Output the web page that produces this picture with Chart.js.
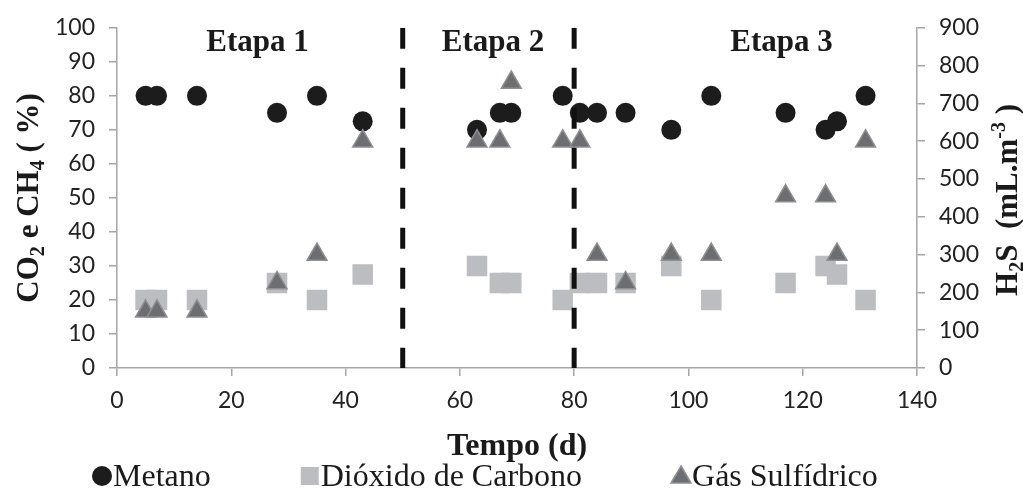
<!DOCTYPE html>
<html>
<head>
<meta charset="utf-8">
<script src="https://cdn.jsdelivr.net/npm/chart.js@4.4.1/dist/chart.umd.min.js"></script>
<style>
  html, body { margin: 0; padding: 0; background: #fff; }
  #wrap { width: 1023px; height: 488px; }
</style>
</head>
<body>
<div id="wrap"><canvas id="gas_chart" width="1023" height="488"></canvas></div>
<script>
// sampling days (same for all three series)
const days = [5, 7, 14, 28, 35, 43, 63, 67, 69, 78, 81, 84, 89, 97, 104, 117, 124, 126, 131];

// CH4 and CO2 in %, H2S in mL.m-3 (right axis)
const metano = [80, 80, 80, 75, 80, 72.5, 70, 75, 75, 80, 75, 75, 75, 70, 80, 75, 70, 72.5, 80];
const dioxido = [20, 20, 20, 25, 20, 27.5, 30, 25, 25, 20, 25, 25, 25, 30, 20, 25, 30, 27.5, 20];
const sulfidrico = [150, 150, 150, 225, 300, 600, 600, 600, 755, 600, 600, 300, 225, 300, 300, 455, 455, 300, 600];

const seriesLabels = ['Metano', 'Dióxido de Carbono', 'Gás Sulfídrico'];

// stage limits and stage names
const stageBounds = [50, 80];
const stageNames = ['Etapa 1', 'Etapa 2', 'Etapa 3'];
const stageCenters = [24.6, 65.8, 116.3];

const xTicks = [0, 20, 40, 60, 80, 100, 120, 140];

const SERIF = "'Liberation Serif', 'Times New Roman', serif";
const SANS = "Lato, 'Open Sans', sans-serif";
const AXIS_GRAY = '#a6a6a6';

function points(values){
    return days.map(function(d, i){ return {x: d, y: values[i]}; });
}

// draws text made of pieces, some of them sub/superscript
function drawRich(ctx, parts, size, x, y){
    let total = 0;
    parts.forEach(function(p){
        const s = p.sub || p.sup ? size * 0.65 : size;
        ctx.font = 'bold ' + s + 'px ' + SERIF;
        total += ctx.measureText(p.t).width;
    });
    let cx = x - total / 2;
    parts.forEach(function(p){
        const s = p.sub || p.sup ? size * 0.65 : size;
        ctx.font = 'bold ' + s + 'px ' + SERIF;
        let dy = 0;
        if(p.sub) dy = size * 0.2;
        if(p.sup) dy = -size * 0.38;
        ctx.fillText(p.t, cx, y + dy);
        cx += ctx.measureText(p.t).width;
    });
}

function legendMarker(ctx, ds, x, y){
    ctx.save();
    ctx.fillStyle = ds.backgroundColor;
    ctx.strokeStyle = ds.borderColor;
    ctx.lineWidth = ds.borderWidth || 0;
    ctx.beginPath();
    if(ds.pointStyle === 'circle'){
        ctx.arc(x, y, 10, 0, Math.PI * 2);
    } else if(ds.pointStyle === 'rect'){
        ctx.rect(x - 9, y - 9, 18, 18);
    } else {
        ctx.moveTo(x, y - 10);
        ctx.lineTo(x + 10, y + 7);
        ctx.lineTo(x - 10, y + 7);
        ctx.closePath();
    }
    ctx.fill();
    if(ds.borderWidth) ctx.stroke();
    ctx.restore();
}

const decorPlugin = {
    id: 'decor',
    afterDraw: function(chart){
        const ctx = chart.ctx;
        const area = chart.chartArea;
        const xs = chart.scales.x;
        ctx.save();
        ctx.fillStyle = '#1a1a1a';

        // stage names
        ctx.font = 'bold 31px ' + SERIF;
        ctx.textAlign = 'center';
        ctx.textBaseline = 'alphabetic';
        stageNames.forEach(function(name, i){
            ctx.fillText(name, xs.getPixelForValue(stageCenters[i]), area.top + 23);
        });

        // axis titles with sub / superscripts
        ctx.textAlign = 'left';
        const midY = (area.top + area.bottom) / 2;
        ctx.save();
        ctx.translate(area.left - 79, midY);
        ctx.rotate(-Math.PI / 2);
        drawRich(ctx, [{t: 'CO'}, {t: '2', sub: true}, {t: ' e CH'}, {t: '4', sub: true}, {t: ' ( %)'}], 31, 0, 0);
        ctx.restore();

        ctx.save();
        ctx.translate(area.right + 100, midY + 2);
        ctx.rotate(-Math.PI / 2);
        drawRich(ctx, [{t: 'H'}, {t: '2', sub: true}, {t: 'S  (mL.m'}, {t: '-3', sup: true}, {t: ' )'}], 31, 0, 0);
        ctx.restore();

        // legend
        ctx.textBaseline = 'alphabetic';
        let lx = 92;
        const ly = 476;
        chart.data.datasets.slice(0, 3).forEach(function(ds){
            legendMarker(ctx, ds, lx + 10, ly);
            ctx.fillStyle = '#1a1a1a';
            ctx.font = '32px ' + SERIF;
            ctx.fillText(ds.label, lx + 21, ly + 10);
            lx += 21 + ctx.measureText(ds.label).width + 89;
        });
        ctx.restore();
    }
};

function stageLine(day){
    return {
        label: '',
        data: [{x: day, y: 100}, {x: day, y: 0}],
        yAxisID: 'y',
        showLine: true,
        borderColor: '#111111',
        borderWidth: 5,
        borderDash: [21, 19],
        pointRadius: 0,
        order: 0
    };
}

function initGasChart(){
    const ctx = document.getElementById('gas_chart').getContext('2d');
    var chart = new Chart(ctx, {
        type: 'scatter',
        data: {
            datasets: [{
                label: seriesLabels[0],
                data: points(metano),
                yAxisID: 'y',
                pointStyle: 'circle',
                pointRadius: 10,
                backgroundColor: '#1c1c1c',
                borderColor: '#1c1c1c',
                borderWidth: 0,
                order: 3
            }, {
                label: seriesLabels[1],
                data: points(dioxido),
                yAxisID: 'y',
                pointStyle: 'rect',
                pointRadius: 14.5,
                backgroundColor: '#bcbdc0',
                borderColor: '#bcbdc0',
                borderWidth: 0,
                order: 2
            }, {
                label: seriesLabels[2],
                data: points(sulfidrico),
                yAxisID: 'y2',
                pointStyle: 'triangle',
                pointRadius: 11.5,
                backgroundColor: '#6d6e71',
                borderColor: '#8e8f91',
                borderWidth: 1.5,
                order: 1
            },
            stageLine(stageBounds[0]),
            stageLine(stageBounds[1])]
        },
        options: {
            responsive: false,
            animation: false,
            events: [],
            layout: {padding: {top: 24, bottom: 22, left: 0, right: 0}},
            plugins: {
                legend: {display: false},
                tooltip: {enabled: false}
            },
            scales: {
                x: {
                    type: 'linear',
                    min: 0,
                    max: 140,
                    afterBuildTicks: function(scale){
                        scale.ticks = xTicks.map(function(v){ return {value: v}; });
                    },
                    ticks: {font: {family: SANS, size: 23}, color: '#222', padding: 11, maxRotation: 0},
                    grid: {drawOnChartArea: false, tickLength: 8, color: AXIS_GRAY, lineWidth: 1.5},
                    border: {color: AXIS_GRAY, width: 1.5},
                    title: {
                        display: true,
                        text: 'Tempo (d)',
                        font: {family: SERIF, size: 32, weight: 'bold'},
                        color: '#1a1a1a',
                        padding: 0
                    },
                    afterFit: function(scale){ scale.height = 98; }
                },
                y: {
                    position: 'left',
                    min: 0,
                    max: 100,
                    ticks: {stepSize: 10, font: {family: SANS, size: 23}, color: '#222', padding: 14},
                    grid: {drawOnChartArea: false, tickLength: 8, color: AXIS_GRAY, lineWidth: 1.5},
                    border: {color: AXIS_GRAY, width: 1.5},
                    afterFit: function(scale){ scale.width = 117; }
                },
                y2: {
                    position: 'right',
                    min: 0,
                    max: 900,
                    ticks: {stepSize: 100, font: {family: SANS, size: 23}, color: '#222', padding: 14},
                    grid: {drawOnChartArea: false, tickLength: 8, color: AXIS_GRAY, lineWidth: 1.5},
                    border: {color: AXIS_GRAY, width: 1.5},
                    afterFit: function(scale){ scale.width = 106; }
                }
            }
        },
        plugins: [decorPlugin]
    });
}

initGasChart();
</script>
</body>
</html>
